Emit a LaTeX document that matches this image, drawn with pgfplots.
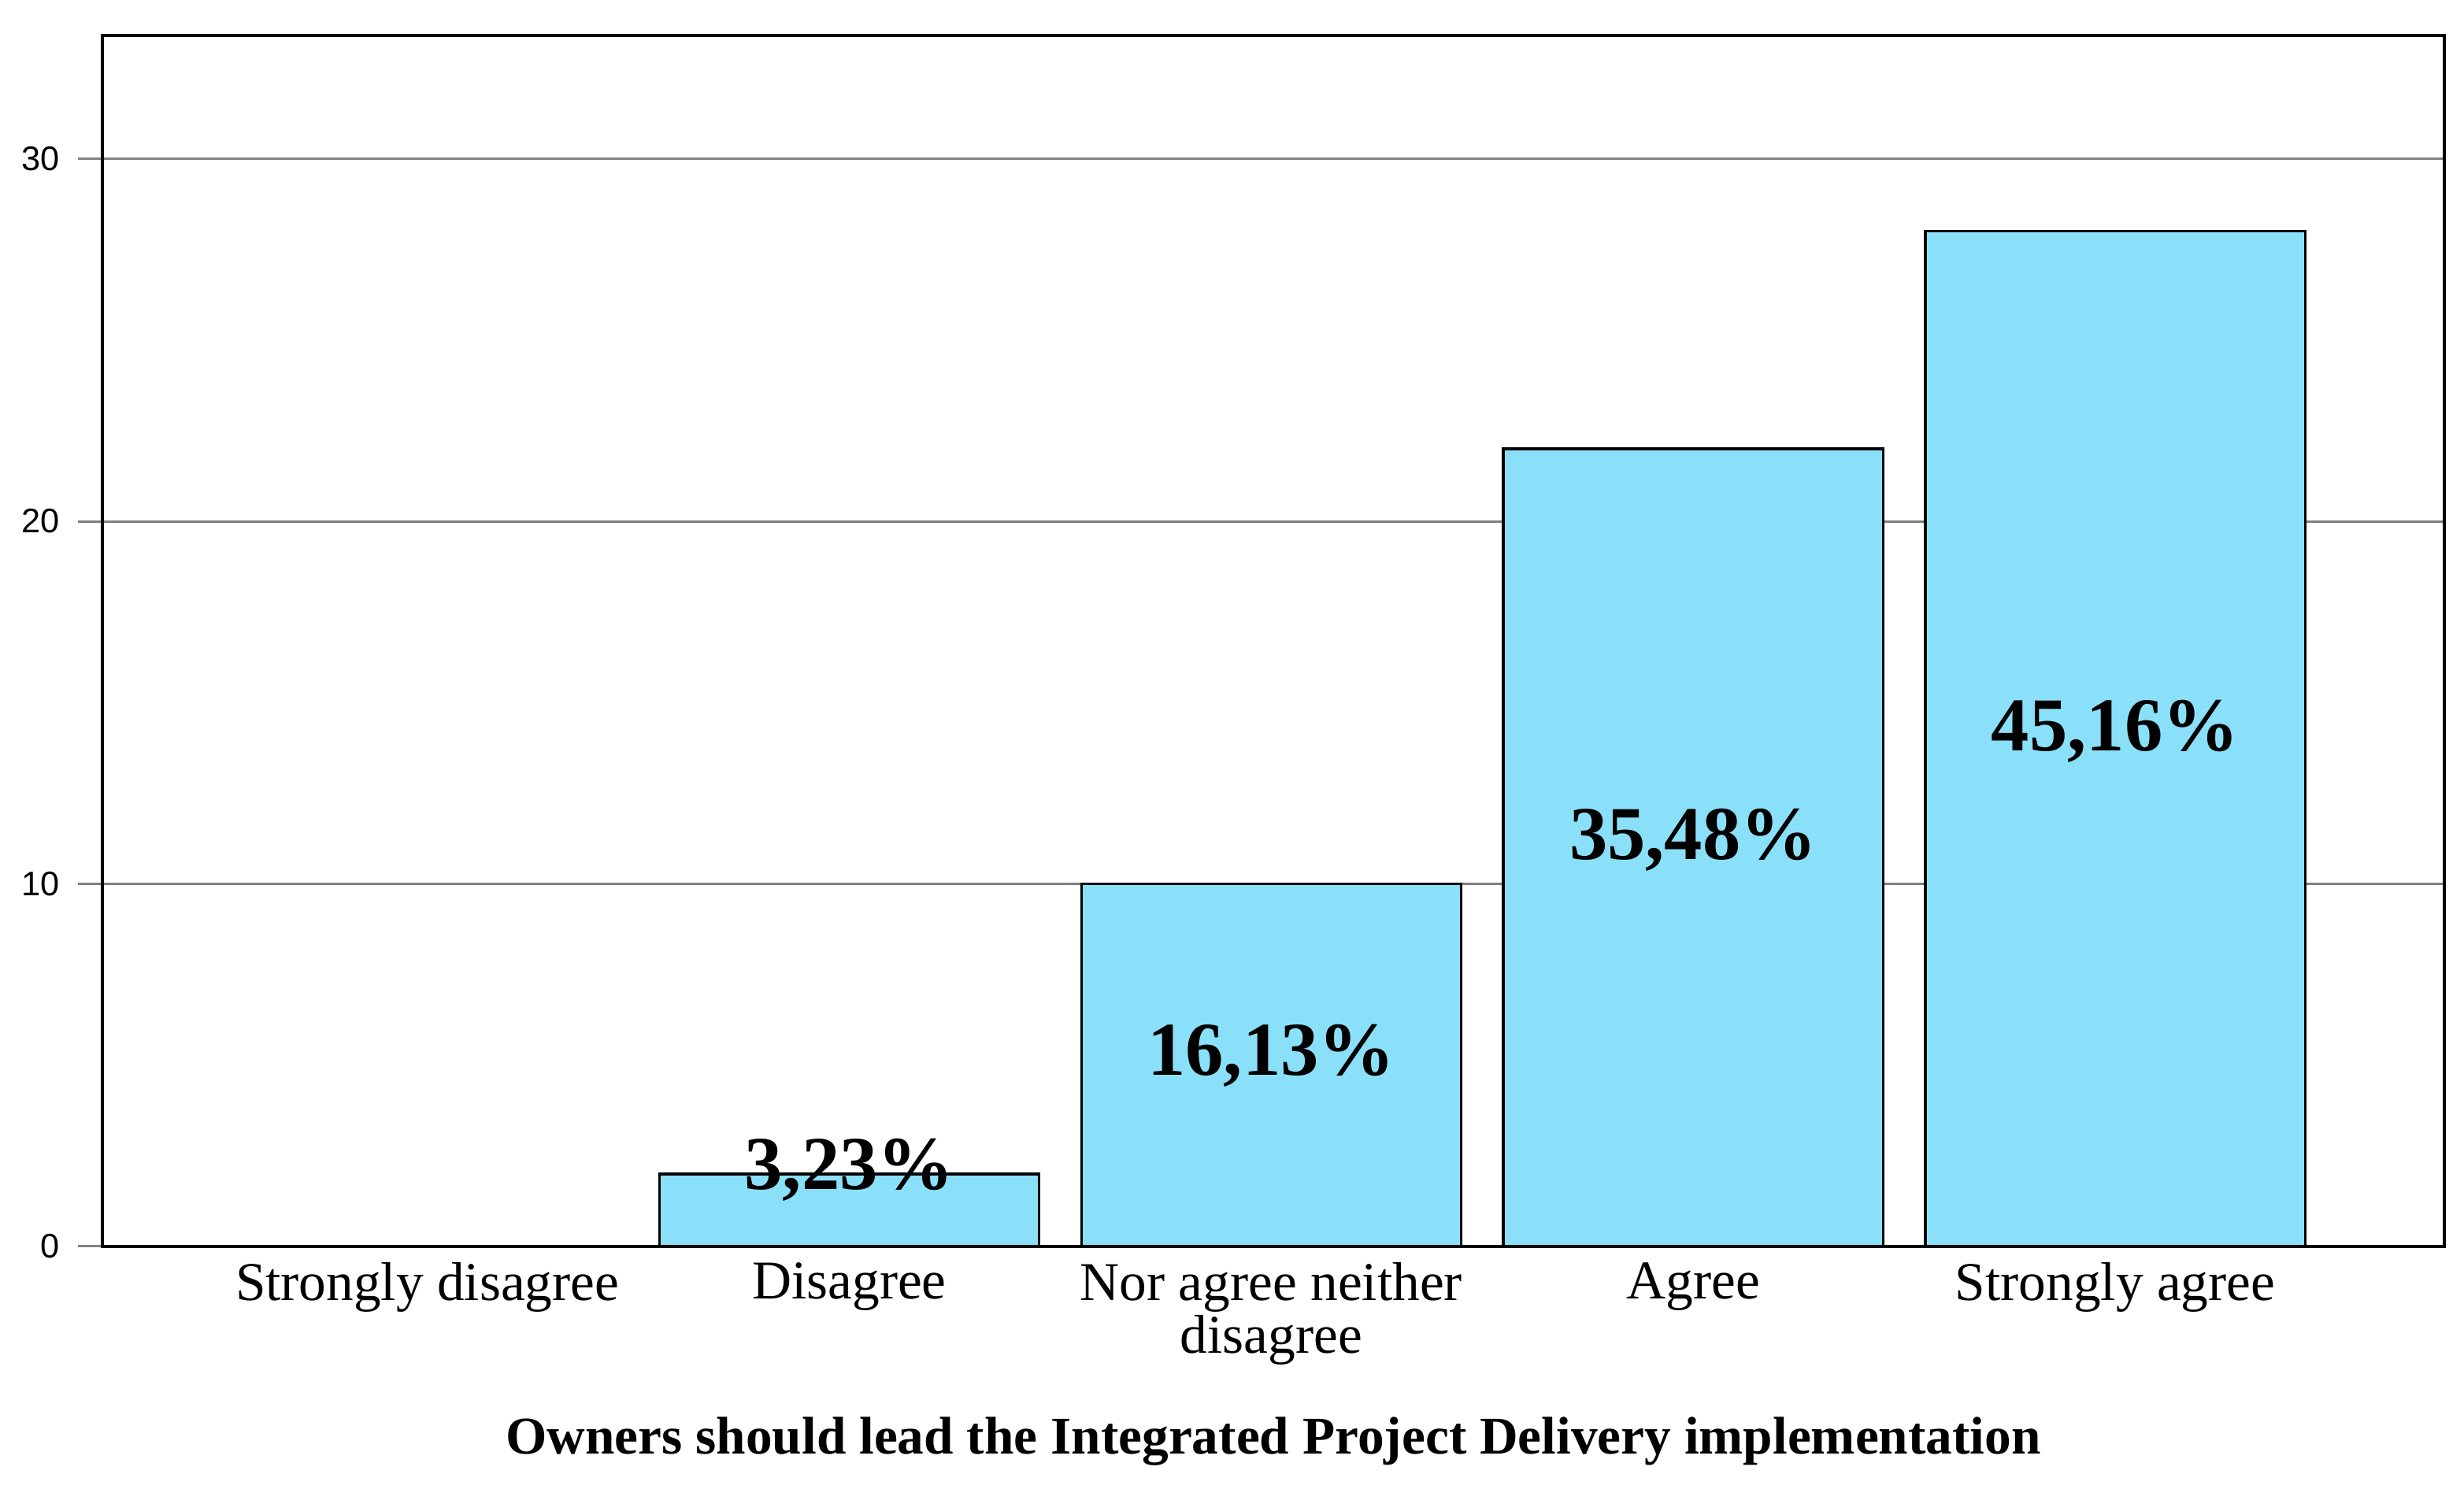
\documentclass[border=0pt]{standalone}
\usepackage{pgfplots}
\pgfplotsset{compat=1.18}
\usepackage{fontspec}
\setmainfont{Liberation Serif}
\newfontfamily\arialfont{Liberation Sans}
\definecolor{barblue}{RGB}{139,224,249}
\definecolor{gridgray}{RGB}{128,128,128}

\begin{document}
\begin{tikzpicture}
\begin{axis}[
    width=446.1pt, height=230.7pt, scale only axis,
    xmin=-0.77, xmax=4.78,
    ymin=0, ymax=33.4,
    xtick={0,1,2,3,4},
    xticklabels={Strongly disagree, Disagree, Nor agree neither\\disagree, Agree, Strongly agree},
    xticklabel style={font=\fontsize{10.4}{10}\selectfont, align=center, yshift=5pt},
    x tick style={draw=none},
    ytick={0,10,20,30},
    yticklabel style={font=\arialfont\fontsize{6.5}{8}\selectfont},
    /pgf/number format/assume math mode=true,
    y tick style={gridgray, line width=0.45pt},
    tick align=outside, major tick length=4.6pt,
    tick pos=left,
    ymajorgrids, grid style={gridgray, line width=0.45pt},
    axis line style={line width=0.6pt},
    xlabel={\textbf{Owners should lead the Integrated Project Delivery implementation}},
    xlabel style={font=\fontsize{10.1}{12}\selectfont, at={(axis description cs:0.5,0)}, anchor=center, yshift=-37.2pt},
]
\addplot[ybar, bar width=0.9, fill=barblue, draw=black, line width=0.5pt]
    coordinates {(0,0) (1,2) (2,10) (3,22) (4,28)};
% percentage labels, placed near the middle of each bar
\addplot[draw=none, mark=none, nodes near coords, point meta=explicit symbolic,
    nodes near coords style={anchor=center, font=\bfseries\fontsize{14.5}{15}\selectfont}]
    coordinates {(1,2.1)[3,23\%] (2,5.25)[16,13\%] (3,11.2)[35,48\%] (4,14.2)[45,16\%]};
\end{axis}
\pgfresetboundingbox
\path ([shift={(-19.5pt,-48.3pt)}]current axis.south west) rectangle ([shift={(3.75pt,6.75pt)}]current axis.north east);
\end{tikzpicture}
\end{document}
